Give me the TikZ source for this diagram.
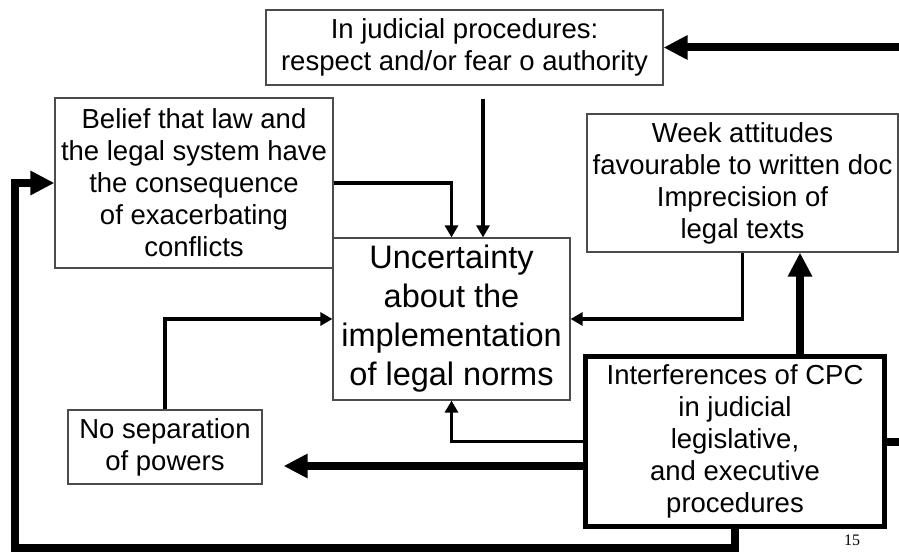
\documentclass[tikz,border=0pt]{standalone}
\usepackage{fontspec}
\setmainfont{Liberation Sans}
\newfontfamily\numfont{Liberation Serif}
\usepackage{tikz}
\usetikzlibrary{arrows.meta}

\begin{document}
\begin{tikzpicture}[x=1pt, y=-1pt,
box/.style={rectangle, draw=black!70, line width=1.2pt, inner sep=0pt, align=center, font=\fontsize{27.5}{32}\selectfont},
link/.style={-{Triangle[length=12pt,width=13pt]}, line width=3.5pt},
bigarrow/.style={-{Triangle[length=24pt,width=23pt]}, line width=8pt}
]
\useasboundingbox (0,0) rectangle (899,553);

% Boxes
\node[box, minimum width=397pt, minimum height=75pt] (authority) at (464.5,47.5) {In judicial procedures:\\respect and/or fear o authority};
\node[box, minimum width=278pt, minimum height=170pt] (belief) at (194,183) {Belief that law and\\the legal system have\\the consequence\\of exacerbating\\conflicts};
\node[box, minimum width=311pt, minimum height=138pt] (week) at (742.5,183) {Week attitudes\\favourable to written doc\\Imprecision of\\legal texts};
\node[box, minimum width=237pt, minimum height=162pt, font=\fontsize{32.5}{39}\selectfont] (uncert) at (451.5,319) {Uncertainty\\about the\\implementation\\of legal norms};
\node[box, minimum width=194pt, minimum height=74pt] (nosep) at (165,447) {No separation\\of powers};
\node[box, draw=black, line width=5pt, minimum width=299pt, minimum height=170pt] (cpc) at (735,441.5) {Interferences of CPC\\in judicial\\legislative,\\and executive\\procedures};

% Loop corners
\coordinate (loopleft) at (15,548);
\coordinate (loopright) at (945,300);

% Arrows into the uncertainty box
\draw[link] ([xshift=18.5pt,yshift=-13pt]authority.south) -- ([xshift=18.5pt]authority.south |- uncert.north);
\draw[link] (belief.east) -| (uncert.north);
\draw[link] (nosep.north) |- (uncert.west);
\draw[link] (week.south) |- (uncert.east);
\draw[link] (cpc.west) -| (uncert.south);

% Thick arrows out of CPC
\draw[bigarrow, shorten >=21pt] ([yshift=-24.5pt]cpc.west) -- ([yshift=-24.5pt]cpc.west -| nosep.east);
\draw[bigarrow] ([xshift=65pt]cpc.north) -- ([xshift=65pt]cpc.north |- week.south);
\draw[bigarrow] (cpc.south) |- (loopleft) |- (belief.west);
\draw[bigarrow] (cpc.east) -| (loopright) |- (authority.east);

% Page number
\node[font=\numfont\fontsize{16}{16}\selectfont] (pagenum) at (852,540) {15};

\end{tikzpicture}
\end{document}
